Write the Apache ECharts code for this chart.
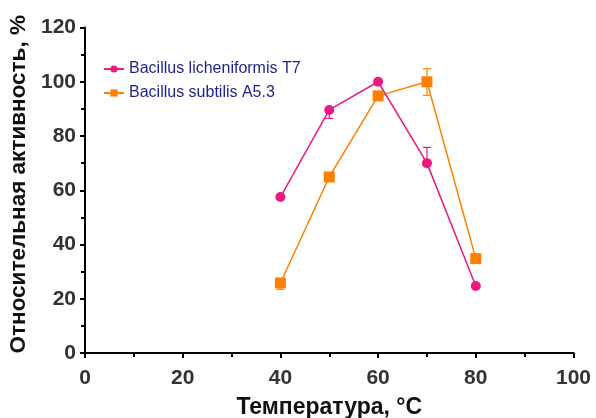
<!DOCTYPE html>
<html><head><meta charset="utf-8">
<script src="https://cdn.jsdelivr.net/npm/echarts@6/dist/echarts.min.js"></script>
<style>html,body{margin:0;padding:0;background:#fff}#c{width:596px;height:418px}</style>
</head><body><div id="c"></div>
<script>
const temps = [40, 50, 60, 70, 80];
const seriesNames = ['Bacillus licheniformis T7', 'Bacillus subtilis A5.3'];
const licheniformis = [57.5, 89.6, 100, 70, 24.7];
const licheniformisLow = [57.5, 86.5, 100, 70, 24.7];
const licheniformisHigh = [57.5, 89.6, 100, 75.8, 24.7];
const subtilis = [25.8, 64.9, 94.8, 100, 34.8];
const subtilisLow = [23.5, 64.9, 94.8, 95, 34.8];
const subtilisHigh = [25.8, 64.9, 94.8, 104.8, 34.8];
const xTicks = [0, 20, 40, 60, 80, 100];
const yTicks = [0, 20, 40, 60, 80, 100, 120];

const pink = '#ec1a80', orange = '#ff8000';
const font = 'Liberation Sans, Arial, sans-serif';

function errSeries(low, high, color) {
  return {
    type: 'custom', silent: true, z: 1,
    data: temps.map((t, i) => [t, low[i], high[i]]),
    renderItem: function (params, api) {
      const x = api.value(0);
      const lo = api.coord([x, api.value(1)]);
      const hi = api.coord([x, api.value(2)]);
      const w = 4;
      const style = { stroke: color, lineWidth: 1.2 };
      const children = [];
      if (Math.abs(lo[1] - hi[1]) < 0.5) return { type: 'group', children: [] };
      children.push({ type: 'line', shape: { x1: lo[0], y1: lo[1], x2: hi[0], y2: hi[1] }, style });
      children.push({ type: 'line', shape: { x1: lo[0] - w, y1: lo[1], x2: lo[0] + w, y2: lo[1] }, style });
      children.push({ type: 'line', shape: { x1: hi[0] - w, y1: hi[1], x2: hi[0] + w, y2: hi[1] }, style });
      return { type: 'group', children };
    }
  };
}

const chart = echarts.init(document.getElementById('c'), null, { renderer: 'canvas' });
const axisLabel = { fontFamily: font, fontWeight: 'bold', fontSize: 21, color: '#333' };
const nameStyle = { fontFamily: font, fontWeight: 'bold', fontSize: 23, color: '#111' };
chart.setOption({
  animation: false,
  grid: { left: 85, right: 22.5, top: 27.5, bottom: 65, containLabel: false, outerBoundsMode: 'none' },
  legend: {
    orient: 'vertical', left: 98, top: 56, itemGap: 8,
    itemWidth: 20, itemHeight: 9,
    textStyle: { fontFamily: font, fontSize: 16, color: '#1f1f8c' },
    data: seriesNames
  },
  xAxis: {
    type: 'value', min: 0, max: 100, interval: 20,
    name: 'Температура, °C', nameLocation: 'middle', nameGap: 43,
    nameTextStyle: nameStyle,
    axisLine: { show: true, lineStyle: { color: '#000', width: 2 } },
    axisTick: { show: true, inside: false, length: 5, lineStyle: { color: '#000', width: 2 } },
    minorTick: { show: true, splitNumber: 2, length: 4, lineStyle: { color: '#000', width: 2 } },
    splitLine: { show: false },
    axisLabel: Object.assign({ margin: 15, formatter: v => xTicks.includes(v) ? String(v) : '' }, axisLabel)
  },
  yAxis: {
    type: 'value', min: 0, max: 120, interval: 20,
    name: 'Относительная активность, %', nameLocation: 'middle', nameGap: 51,
    nameTextStyle: Object.assign({}, nameStyle, { fontSize: 22.5, padding: [0, 0, 0, 12] }),
    axisLine: { show: true, lineStyle: { color: '#000', width: 2 } },
    axisTick: { show: true, inside: false, length: 5, lineStyle: { color: '#000', width: 2 } },
    minorTick: { show: true, splitNumber: 2, length: 4, lineStyle: { color: '#000', width: 2 } },
    splitLine: { show: false },
    axisLabel: Object.assign({ margin: 9, formatter: v => yTicks.includes(v) ? String(v) : '' }, axisLabel)
  },
  series: [
    errSeries(licheniformisLow, licheniformisHigh, pink),
    errSeries(subtilisLow, subtilisHigh, orange),
    {
      name: seriesNames[0], type: 'line', z: 3,
      data: temps.map((t, i) => [t, licheniformis[i]]),
      symbol: 'circle', symbolSize: 10,
      itemStyle: { color: pink }, lineStyle: { color: pink, width: 1.5 }
    },
    {
      name: seriesNames[1], type: 'line', z: 2,
      data: temps.map((t, i) => [t, subtilis[i]]),
      symbol: 'rect', symbolSize: 11,
      itemStyle: { color: orange }, lineStyle: { color: orange, width: 1.5 }
    }
  ]
});
</script></body></html>
